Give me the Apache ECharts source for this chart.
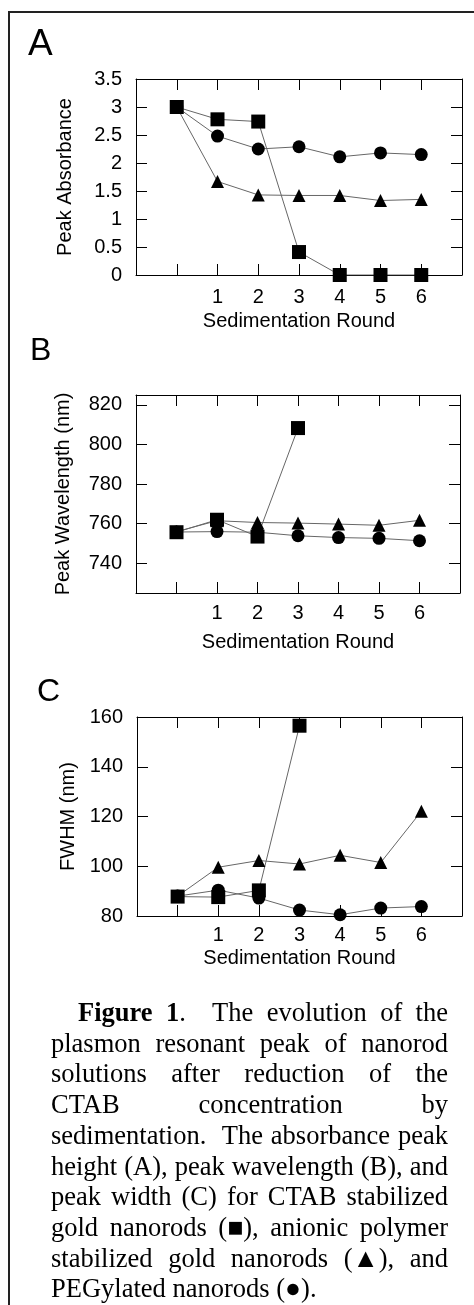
<!DOCTYPE html>
<html>
<head>
<meta charset="utf-8">
<script src="https://cdn.jsdelivr.net/npm/echarts@6/dist/echarts.min.js"></script>
<style>
  body { margin: 0; background: #fff; overflow: hidden; }
  #chart { position: absolute; left: 0; top: 0; width: 474px; height: 980px; }
  #frame { position: absolute; left: 8px; top: 11px; width: 480px; height: 1320px;
           border-left: 2px solid #222; border-top: 2px solid #222; pointer-events: none; }
  #cap { position: absolute; left: 51px; top: 997px; width: 397px;
         font-family: "Liberation Serif", "Times New Roman", serif; font-size: 26.5px;
         line-height: 30.7px; text-align: justify; text-indent: 27px; color: #000; }
  #cap .sym { display: inline-block; text-indent: 0; }
</style>
</head>
<body>
<div id="chart"></div>
<div id="frame"></div>
<div id="cap"><b>Figure 1</b>.&nbsp; The evolution of the plasmon resonant peak of nanorod solutions after reduction of the CTAB concentration by sedimentation.&nbsp; The absorbance peak height (A), peak wavelength (B), and peak width (C) for CTAB stabilized gold nanorods <span class="sym">(■)</span>, anionic polymer stabilized gold nanorods <span class="sym">(▲)</span>, and PEGylated nanorods <span class="sym">(●)</span>.</div>
<script>
// sedimentation rounds (0 = before sedimentation)
var rounds = [0, 1, 2, 3, 4, 5, 6];
var roundLabels = [1, 2, 3, 4, 5, 6];

// A - peak absorbance
var absTicks = [0, 0.5, 1, 1.5, 2, 2.5, 3, 3.5];
var absCtab = [3.0, 2.78, 2.74, 0.41, 0, 0, 0];
var absPoly = [3.0, 1.67, 1.43, 1.42, 1.42, 1.33, 1.35];
var absPeg = [3.0, 2.48, 2.25, 2.29, 2.11, 2.18, 2.15];

// B - peak wavelength (nm)
var wlTicks = [740, 760, 780, 800, 820];
var wlCtab = [755.7, 762, 753.5, 808.3];
var wlPoly = [756, 761.5, 760.6, 760.3, 759.8, 759.2, 761.7];
var wlPeg = [755.8, 756, 755.7, 753.9, 753, 752.6, 751.4];

// C - FWHM (nm)
var fwTicks = [80, 100, 120, 140, 160];
var fwCtab = [87.8, 87.6, 90.3, 156.5];
var fwPoly = [88, 99.6, 102.3, 100.9, 104.4, 101.5, 122.1];
var fwPeg = [88, 90.4, 87.2, 82.4, 80.5, 83.2, 83.8];

var font = '"Liberation Sans", Arial, sans-serif';

function pts(vals) {
    return vals.map(function (v, i) { return [rounds[i], v]; });
}

var panels = [
    { grid: { left: 136, top: 79, width: 326, height: 196 }, min: 0, max: 3.5, ticks: absTicks,
      name: 'Peak Absorbance', nameGap: 61, xMargin: 12, xNameGap: 36,
      ctab: absCtab, poly: absPoly, peg: absPeg },
    { grid: { left: 136, top: 395, width: 324, height: 198 }, min: 725, max: 825, ticks: wlTicks,
      name: 'Peak Wavelength (nm)', nameGap: 63, xMargin: 10, xNameGap: 39,
      ctab: wlCtab, poly: wlPoly, peg: wlPeg },
    { grid: { left: 137, top: 717, width: 325, height: 199 }, min: 80, max: 160, ticks: fwTicks,
      name: 'FWHM (nm)', nameGap: 57, xMargin: 9, xNameGap: 32,
      ctab: fwCtab, poly: fwPoly, peg: fwPeg }
];

var axisLine = { show: true, onZero: false, lineStyle: { color: '#000', width: 1 } };
var tickStyle = { color: '#000', width: 1 };

var grid = [], xAxis = [], yAxis = [], series = [];

panels.forEach(function (p, g) {
    grid.push(p.grid);
    // bottom and top x axes
    xAxis.push({
        type: 'value', gridIndex: g, min: -1, max: 7, position: 'bottom',
        name: 'Sedimentation Round', nameLocation: 'middle', nameGap: p.xNameGap,
        nameTextStyle: { fontFamily: font, fontSize: 20, color: '#000' },
        axisLine: axisLine, splitLine: { show: false },
        axisTick: { inside: true, length: 11, lineStyle: tickStyle, customValues: rounds },
        axisLabel: { fontFamily: font, fontSize: 20, color: '#000', margin: p.xMargin, customValues: roundLabels }
    });
    xAxis.push({
        type: 'value', gridIndex: g, min: -1, max: 7, position: 'top',
        axisLine: axisLine, splitLine: { show: false },
        axisTick: { inside: true, length: 11, lineStyle: tickStyle, customValues: rounds },
        axisLabel: { show: false }
    });
    // left and right y axes
    yAxis.push({
        type: 'value', gridIndex: g, min: p.min, max: p.max, position: 'left',
        name: p.name, nameLocation: 'middle', nameGap: p.nameGap,
        nameTextStyle: { fontFamily: font, fontSize: 20, color: '#000' },
        axisLine: axisLine, splitLine: { show: false },
        axisTick: { inside: true, length: 11, lineStyle: tickStyle, customValues: p.ticks },
        axisLabel: { fontFamily: font, fontSize: 20, color: '#000', margin: 14, customValues: p.ticks }
    });
    yAxis.push({
        type: 'value', gridIndex: g, min: p.min, max: p.max, position: 'right',
        axisLine: axisLine, splitLine: { show: false },
        axisTick: { inside: true, length: 11, lineStyle: tickStyle, customValues: p.ticks },
        axisLabel: { show: false }
    });

    var common = {
        type: 'line', xAxisIndex: 2 * g, yAxisIndex: 2 * g,
        lineStyle: { color: '#666', width: 1 },
        itemStyle: { color: '#000' }, emphasis: { disabled: true }
    };
    series.push(Object.assign({ name: 'PEG', symbol: 'circle', symbolSize: 13, data: pts(p.peg) }, common));
    series.push(Object.assign({ name: 'polymer', symbol: 'triangle', symbolSize: 13, data: pts(p.poly) }, common));
    series.push(Object.assign({ name: 'CTAB', symbol: 'rect', symbolSize: 14, data: pts(p.ctab) }, common));
});

var myChart = echarts.init(document.getElementById('chart'));

var option = {
    animation: false,
    grid: grid,
    xAxis: xAxis,
    yAxis: yAxis,
    series: series,
    graphic: [
        { type: 'text', left: 28, top: 26, style: { text: 'A', font: '37px ' + font, fill: '#000' } },
        { type: 'text', left: 30, top: 335, style: { text: 'B', font: '32px ' + font, fill: '#000' } },
        { type: 'text', left: 37, top: 676, style: { text: 'C', font: '32px ' + font, fill: '#000' } }
    ]
};

myChart.setOption(option);
</script>
</body>
</html>
